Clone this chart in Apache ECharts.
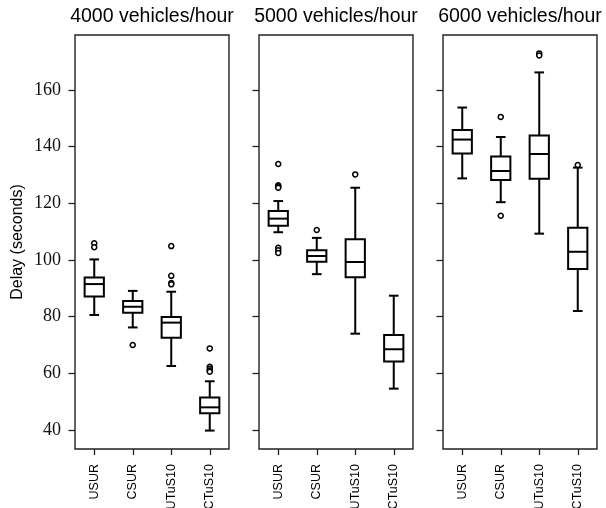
<!DOCTYPE html>
<html>
<head>
<meta charset="utf-8">
<script src="https://cdn.jsdelivr.net/npm/echarts@6/dist/echarts.min.js"></script>
<style>
html,body{margin:0;padding:0;background:#fff;}
#chart{width:606px;height:508px;}
</style>
</head>
<body>
<div id="chart"></div>
<script>
const categories = ['USUR', 'CSUR', 'UTuS10', 'CTuS10'];
const panelTitles = ['4000 vehicles/hour', '5000 vehicles/hour', '6000 vehicles/hour'];
const yTicks = [40, 60, 80, 100, 120, 140, 160];
const yLabel = 'Delay (seconds)';

// [lower whisker, Q1, median, Q3, upper whisker] per category
const box4000 = [[80.6, 87.1, 91.5, 93.8, 100.2], [76.2, 81.4, 83.5, 85.5, 89.1], [62.6, 72.6, 77.9, 79.9, 88.8], [39.8, 45.9, 48.0, 51.5, 57.2]];
const box5000 = [[109.8, 112.1, 114.6, 117.3, 120.8], [95.0, 99.4, 101.4, 103.4, 107.8], [74.0, 93.9, 99.3, 107.3, 125.5], [54.6, 64.2, 68.5, 73.5, 87.4]];
const box6000 = [[128.8, 137.6, 142.5, 145.9, 153.8], [120.4, 128.2, 131.4, 136.5, 143.4], [109.3, 128.7, 137.4, 143.9, 166.2], [82.0, 96.8, 102.9, 111.4, 132.6]];

// outliers: [category index, value]
const out4000 = [[0, 105.9], [0, 104.5], [1, 70.0], [2, 104.9], [2, 94.4], [2, 91.9], [2, 91.4], [3, 68.8], [3, 62.3], [3, 61.6], [3, 61.0], [3, 60.6]];
const out5000 = [[0, 133.9], [0, 126.4], [0, 125.9], [0, 125.5], [0, 104.3], [0, 103.4], [0, 102.5], [1, 110.6], [2, 130.2]];
const out6000 = [[1, 150.5], [1, 115.6], [2, 172.9], [2, 172.2], [3, 133.5]];

const boxes = [box4000, box5000, box6000];
const outs = [out4000, out5000, out6000];

const chart = echarts.init(document.getElementById('chart'), null, {renderer: 'canvas'});

const gridLefts = [75, 259, 443];
const gridWidth = 154;
const gridTop = 35;
const gridHeight = 414;
const yMin = 33.3, yMax = 179.4;

function renderBox(params, api) {
  const x = api.value(0);
  const low = api.coord([x, api.value(1)]);
  const q1 = api.coord([x, api.value(2)]);
  const med = api.coord([x, api.value(3)]);
  const q3 = api.coord([x, api.value(4)]);
  const high = api.coord([x, api.value(5)]);
  const band = api.size([1, 0])[0];
  const hw = band * 0.25;
  const cw = band * 0.125;
  const cx = low[0];
  const st = {stroke: '#000', lineWidth: 2, fill: null};
  return {
    type: 'group',
    children: [
      {type: 'line', shape: {x1: cx, y1: q1[1], x2: cx, y2: low[1]}, style: st},
      {type: 'line', shape: {x1: cx, y1: q3[1], x2: cx, y2: high[1]}, style: st},
      {type: 'line', shape: {x1: cx - cw, y1: low[1], x2: cx + cw, y2: low[1]}, style: st},
      {type: 'line', shape: {x1: cx - cw, y1: high[1], x2: cx + cw, y2: high[1]}, style: st},
      {type: 'rect', shape: {x: cx - hw, y: q3[1], width: 2 * hw, height: q1[1] - q3[1]}, style: {stroke: '#000', lineWidth: 2, fill: '#fff'}},
      {type: 'line', shape: {x1: cx - hw, y1: med[1], x2: cx + hw, y2: med[1]}, style: st}
    ]
  };
}

const grids = [], xAxes = [], yAxes = [], series = [], titles = [];
for (let p = 0; p < 3; p++) {
  grids.push({left: gridLefts[p], top: gridTop, width: gridWidth, height: gridHeight,
    show: true, borderColor: '#222', borderWidth: 1.4, backgroundColor: 'transparent',
    containLabel: false, outerBoundsMode: 'none'});
  titles.push({text: panelTitles[p], left: gridLefts[p] + gridWidth / 2, top: 7, padding: 0, textAlign: 'center',
    textStyle: {fontFamily: 'Liberation Sans', fontSize: 19.5, fontWeight: 'normal', color: '#000'}});
  xAxes.push({type: 'category', gridIndex: p, data: categories, boundaryGap: true,
    axisLine: {show: false},
    axisTick: {show: true, alignWithLabel: true, length: 6, lineStyle: {color: '#222', width: 1.3}},
    axisLabel: {rotate: 90, margin: 15, fontFamily: 'Liberation Sans', fontSize: 12.5, color: '#000', interval: 0},
    splitLine: {show: false}});
  yAxes.push({type: 'value', gridIndex: p, min: yMin, max: yMax,
    name: p === 0 ? yLabel : '', nameLocation: 'middle', nameGap: 49,
    nameTextStyle: {fontFamily: 'Liberation Sans', fontSize: 16, color: '#000'},
    axisLine: {show: false},
    axisTick: {show: true, length: 6.5, customValues: yTicks, lineStyle: {color: '#222', width: 1.3}},
    axisLabel: {show: p === 0, customValues: yTicks, margin: 14, fontFamily: 'Liberation Serif', fontSize: 18, color: '#111'},
    splitLine: {show: false}});
  series.push({type: 'custom', xAxisIndex: p, yAxisIndex: p, renderItem: renderBox,
    encode: {x: 0, y: [1, 2, 3, 4, 5]},
    data: boxes[p].map((b, i) => [i].concat(b)), z: 2, silent: true});
  series.push({type: 'scatter', xAxisIndex: p, yAxisIndex: p, data: outs[p], symbol: 'circle', symbolSize: 5,
    itemStyle: {color: '#fff', borderColor: '#000', borderWidth: 1.5, opacity: 1}, z: 3, silent: true});
}

chart.setOption({
  animation: false,
  backgroundColor: '#fff',
  title: titles,
  grid: grids,
  xAxis: xAxes,
  yAxis: yAxes,
  series: series
});
</script>
</body>
</html>
